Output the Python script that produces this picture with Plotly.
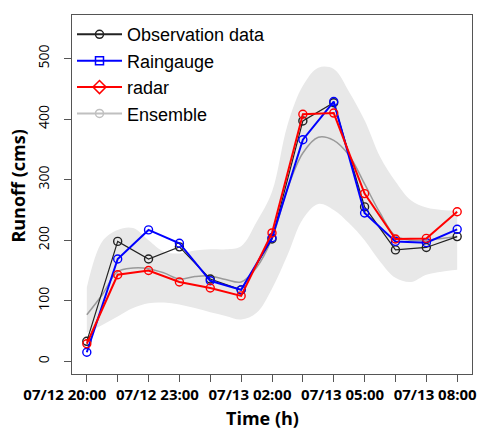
import plotly.graph_objects as go

# ---- data ----
time_h = [0, 1, 2, 3, 4, 5, 6, 7, 8, 9, 10, 11, 12]   # hours since 07/12 20:00
tick_text = ["07/12 20:00", "", "", "07/12 23:00", "", "", "07/13 02:00", "", "",
             "07/13 05:00", "", "", "07/13 08:00"]

observation = [33, 198, 169, 189, 136, 118, 202, 397, 427, 255, 184, 188, 206]
raingauge = [15, 169, 217, 195, 133, 118, 204, 366, 429, 245, 198, 196, 218]
radar = [29, 143, 150, 131, 121, 108, 212, 408, 410, 277, 202, 203, 247]

band_time = [k * 0.5 for k in range(25)]
ens_mean = [77, 110, 148, 154, 153, 146, 136, 140, 141, 135, 131, 155, 203,
            285, 344, 370, 365, 340, 293, 245, 207, 200, 200, 203, 206]
ens_upper = [122, 198, 217, 220, 200, 181, 178, 183, 185, 185, 190, 230, 280,
             390, 455, 485, 483, 445, 398, 338, 297, 266, 254, 250, 249]
ens_lower = [47, 60, 74, 88, 96, 97, 94, 88, 81, 75, 69, 80, 120,
             175, 235, 260, 250, 228, 200, 165, 138, 131, 143, 148, 151]

fig = go.Figure()

# ensemble band
fig.add_trace(go.Scatter(x=band_time, y=ens_lower, mode="lines",
                         line=dict(width=0, shape="spline", color="rgba(0,0,0,0)"),
                         showlegend=False, hoverinfo="skip"))
fig.add_trace(go.Scatter(x=band_time, y=ens_upper, mode="lines", fill="tonexty",
                         fillcolor="#e8e8e8",
                         line=dict(width=0, shape="spline", color="rgba(0,0,0,0)"),
                         showlegend=False, hoverinfo="skip"))
fig.add_trace(go.Scatter(x=band_time, y=ens_mean, mode="lines",
                         line=dict(width=1.5, shape="spline", color="#9a9a9a"),
                         showlegend=False))

# series
fig.add_trace(go.Scatter(x=time_h, y=observation, mode="lines+markers",
                         line=dict(color="#222222", width=1.2),
                         marker=dict(symbol="circle-open", size=8, line=dict(width=1.4)),
                         showlegend=False))
fig.add_trace(go.Scatter(x=time_h, y=raingauge, mode="lines+markers",
                         line=dict(color="#0000ff", width=2),
                         marker=dict(symbol="circle-open", size=8, line=dict(width=1.4)),
                         showlegend=False))
fig.add_trace(go.Scatter(x=time_h, y=radar, mode="lines+markers",
                         line=dict(color="#ff0000", width=2),
                         marker=dict(symbol="circle-open", size=8, line=dict(width=1.4)),
                         showlegend=False))

# legend entries
leg = [("Observation data", "#222222", "circle-open", 8),
       ("Raingauge", "#0000ff", "square-open", 8),
       ("radar", "#ff0000", "diamond-open", 10),
       ("Ensemble", "#c0c0c0", "circle-open", 8)]
for name, col, sym, sz in leg:
    fig.add_trace(go.Scatter(x=[None], y=[None], mode="lines+markers", name=name,
                             line=dict(color=col, width=2),
                             marker=dict(symbol=sym, size=sz, color=col, line=dict(width=1.5))))

axis_col = "#555555"
fig.update_layout(
    width=491, height=430,
    margin=dict(l=72, r=19, t=15, b=56),
    paper_bgcolor="white", plot_bgcolor="white",
    showlegend=True,
    legend=dict(x=0.0, y=0.997, xanchor="left", yanchor="top", traceorder="normal",
                bgcolor="rgba(0,0,0,0)", borderwidth=0, itemwidth=45,
                font=dict(family="Liberation Sans, Arial, sans-serif", size=18, color="black")),
    xaxis=dict(range=[-0.48, 12.48], tickvals=time_h, ticktext=tick_text,
               ticks="outside", ticklen=7, tickcolor=axis_col, tickwidth=1,
               showline=True, mirror=True, linecolor=axis_col, linewidth=1.2,
               showgrid=False, zeroline=False, ticklabelshift=-22,
               tickfont=dict(family="Open Sans, sans-serif", size=15, color="black", weight="bold")),
    yaxis=dict(range=[-21, 572], tickvals=[0, 100, 200, 300, 400, 500],
               ticks="outside", ticklen=7, tickcolor=axis_col, tickwidth=1,
               showline=True, mirror=True, linecolor=axis_col, linewidth=1.2,
               showgrid=False, zeroline=False, tickangle=-90, ticklabelstandoff=9,
               tickfont=dict(family="Open Sans, sans-serif", size=14, color="black")),
    annotations=[
        dict(text="<b>Time (h)</b>", xref="paper", yref="paper", x=0.475, y=0,
             yshift=-44, xanchor="center", yanchor="middle", showarrow=False,
             font=dict(family="Open Sans, sans-serif", size=18, color="black")),
        dict(text="<b>Runoff (cms)</b>", xref="paper", yref="paper", x=0, y=0.522,
             xshift=-54, textangle=-90, xanchor="center", yanchor="middle", showarrow=False,
             font=dict(family="Open Sans, sans-serif", size=18, color="black")),
    ],
)

fig.write_html("out.html")
